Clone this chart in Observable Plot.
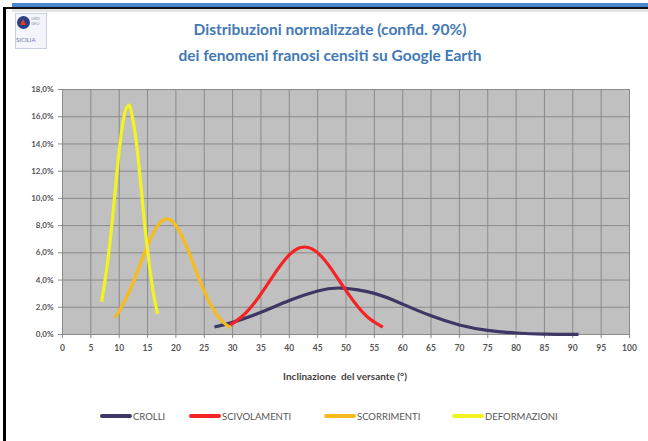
<!DOCTYPE html>
<html>
<head>
<meta charset="utf-8">
<script src="https://cdn.jsdelivr.net/npm/d3@7"></script>
<script src="https://cdn.jsdelivr.net/npm/@observablehq/plot@0.6"></script>
<style>
  html, body { margin: 0; padding: 0; background: #fff; }
  #wrap { position: relative; width: 648px; height: 441px; overflow: hidden; background: #fff; font-family: Lato, "Open Sans", sans-serif; }
  #chart { position: absolute; left: 0; top: 0; }
  .abs { position: absolute; }
  .title { left: 0; width: 660px; text-align: center; color: #4379b4; font-weight: bold; font-size: 15.5px; white-space: nowrap; }
  .leg { top: 408px; height: 16px; display: flex; align-items: center; font-size: 9.5px; color: #555; white-space: nowrap; }
  .leg span.sw { display: inline-block; width: 32px; height: 4px; border-radius: 2px; margin-right: 1px; }
</style>
</head>
<body>
<div id="wrap">
  <div id="chart"></div>
  <div class="abs" style="left:12px;top:3px;width:636px;height:4px;background:#4a86d0;"></div>
  <div class="abs" style="left:3px;top:7px;width:645px;height:2px;background:#111;"></div>
  <div class="abs" style="left:12px;top:9px;width:636px;height:3px;background:#e4e4e4;"></div>
  <div class="abs" style="left:3px;top:7px;width:3px;height:434px;background:#000;"></div>
  <div class="abs" style="left:15px;top:13px;width:30px;height:34px;border:1px solid #c8cde0;background:#f4f5fa;"></div>
  <div class="abs" style="left:17px;top:16px;width:13px;height:13px;border-radius:50%;background:#2b3f86;"></div>
  <div class="abs" style="left:20px;top:19px;width:0;height:0;border-left:3.5px solid transparent;border-right:3.5px solid transparent;border-bottom:6px solid #e04020;"></div>
  <div class="abs" style="left:31px;top:16px;font-size:4px;color:#8a93c0;line-height:5px;">ORD<br>GEO</div>
  <div class="abs" style="left:16px;top:36px;font-size:6px;color:#6a76b0;">SICILIA</div>
  <div class="abs title" style="top:20px;">Distribuzioni normalizzate (confid. 90%)</div>
  <div class="abs title" style="top:46px;">dei fenomeni franosi censiti su Google Earth</div>
  <div class="abs" style="left:0;width:690px;top:370px;text-align:center;font-size:10px;font-weight:bold;color:#444;">Inclinazione&nbsp; del versante (°)</div>
  <div class="abs leg" style="left:100px;"><span class="sw" style="background:#3c3765"></span>CROLLI</div>
  <div class="abs leg" style="left:189px;"><span class="sw" style="background:#f52424"></span>SCIVOLAMENTI</div>
  <div class="abs leg" style="left:324px;"><span class="sw" style="background:#f6bb1c"></span>SCORRIMENTI</div>
  <div class="abs leg" style="left:452px;"><span class="sw" style="background:#f3f320"></span>DEFORMAZIONI</div>
</div>
<script>
// Series names and colours
const seriesNames = ["CROLLI", "SCIVOLAMENTI", "SCORRIMENTI", "DEFORMAZIONI"];
const seriesColors = ["#3c3765", "#f52424", "#f6bb1c", "#f3f320"];

// Values (slope angle in degrees, share in %)
const crolliX = [26.8, 30, 35, 40, 45, 49.2, 55, 60, 65, 70, 75, 80, 85, 91];
const crolliY = [0.55, 0.89, 1.63, 2.50, 3.20, 3.41, 3.02, 2.23, 1.37, 0.70, 0.30, 0.11, 0.03, 0.01];

const scivX = [29.6, 32, 34, 36, 38, 40, 42, 44, 46, 48, 50, 52, 54, 56.5];
const scivY = [0.69, 1.45, 2.40, 3.59, 4.82, 5.85, 6.39, 6.29, 5.58, 4.46, 3.22, 2.09, 1.22, 0.54];

const scorrX = [9.2, 10, 12, 14, 16, 18, 20, 22, 24, 26, 28, 29.6];
const scorrY = [1.25, 1.71, 3.36, 5.48, 7.45, 8.46, 8.01, 6.33, 4.17, 2.30, 1.05, 0.50];

const deforX = [6.9, 8, 9, 10, 11, 11.6, 12, 13, 14, 15, 16, 16.8];
const deforY = [2.4, 5.46, 9.3, 13.5, 16.3, 16.8, 16.6, 14.2, 10.2, 6.2, 3.1, 1.5];

const xTicks = d3.range(0, 101, 5);
const yTicks = [0, 2, 4, 6, 8, 10, 12, 14, 16, 18];

const table = [];
[[crolliX, crolliY], [scivX, scivY], [scorrX, scorrY], [deforX, deforY]].forEach(([xs, ys], i) => {
  xs.forEach((x, j) => table.push({serie: seriesNames[i], x, y: ys[j]}));
});

const fmt = d => d.toFixed(1).replace(".", ",") + "%";

const chart = Plot.plot({
  width: 648,
  height: 441,
  marginLeft: 62,
  marginRight: 19,
  marginTop: 89,
  marginBottom: 107,
  style: {background: "transparent", fontFamily: "Lato, 'Open Sans', sans-serif"},
  x: {domain: [0, 100], label: null},
  y: {domain: [0, 18], label: null},
  color: {domain: seriesNames, range: seriesColors},
  marks: [
    Plot.frame({fill: "#c0c0c0", stroke: null}),
    Plot.gridX(xTicks, {stroke: "#8a8a8a", strokeOpacity: 1, strokeWidth: 1}),
    Plot.gridY(yTicks, {stroke: "#8a8a8a", strokeOpacity: 1, strokeWidth: 1}),
    Plot.ruleY([0], {stroke: "#8a8a8a"}),
    Plot.ruleX([0], {stroke: "#8a8a8a"}),
    Plot.axisX(xTicks, {tickSize: 4, tickPadding: 6, fontSize: 8.5, fontWeight: "bold", fill: "#555", stroke: "#8a8a8a", label: null}),
    Plot.axisY(yTicks, {tickSize: 4, tickPadding: 5, fontSize: 8, fontWeight: "bold", fill: "#555", stroke: "#8a8a8a", tickFormat: fmt, label: null}),
    Plot.line(table, {x: "x", y: "y", z: "serie", stroke: "serie", strokeWidth: 3.2, curve: "natural", strokeLinecap: "butt"})
  ]
});
document.getElementById("chart").appendChild(chart);
</script>
</body>
</html>
